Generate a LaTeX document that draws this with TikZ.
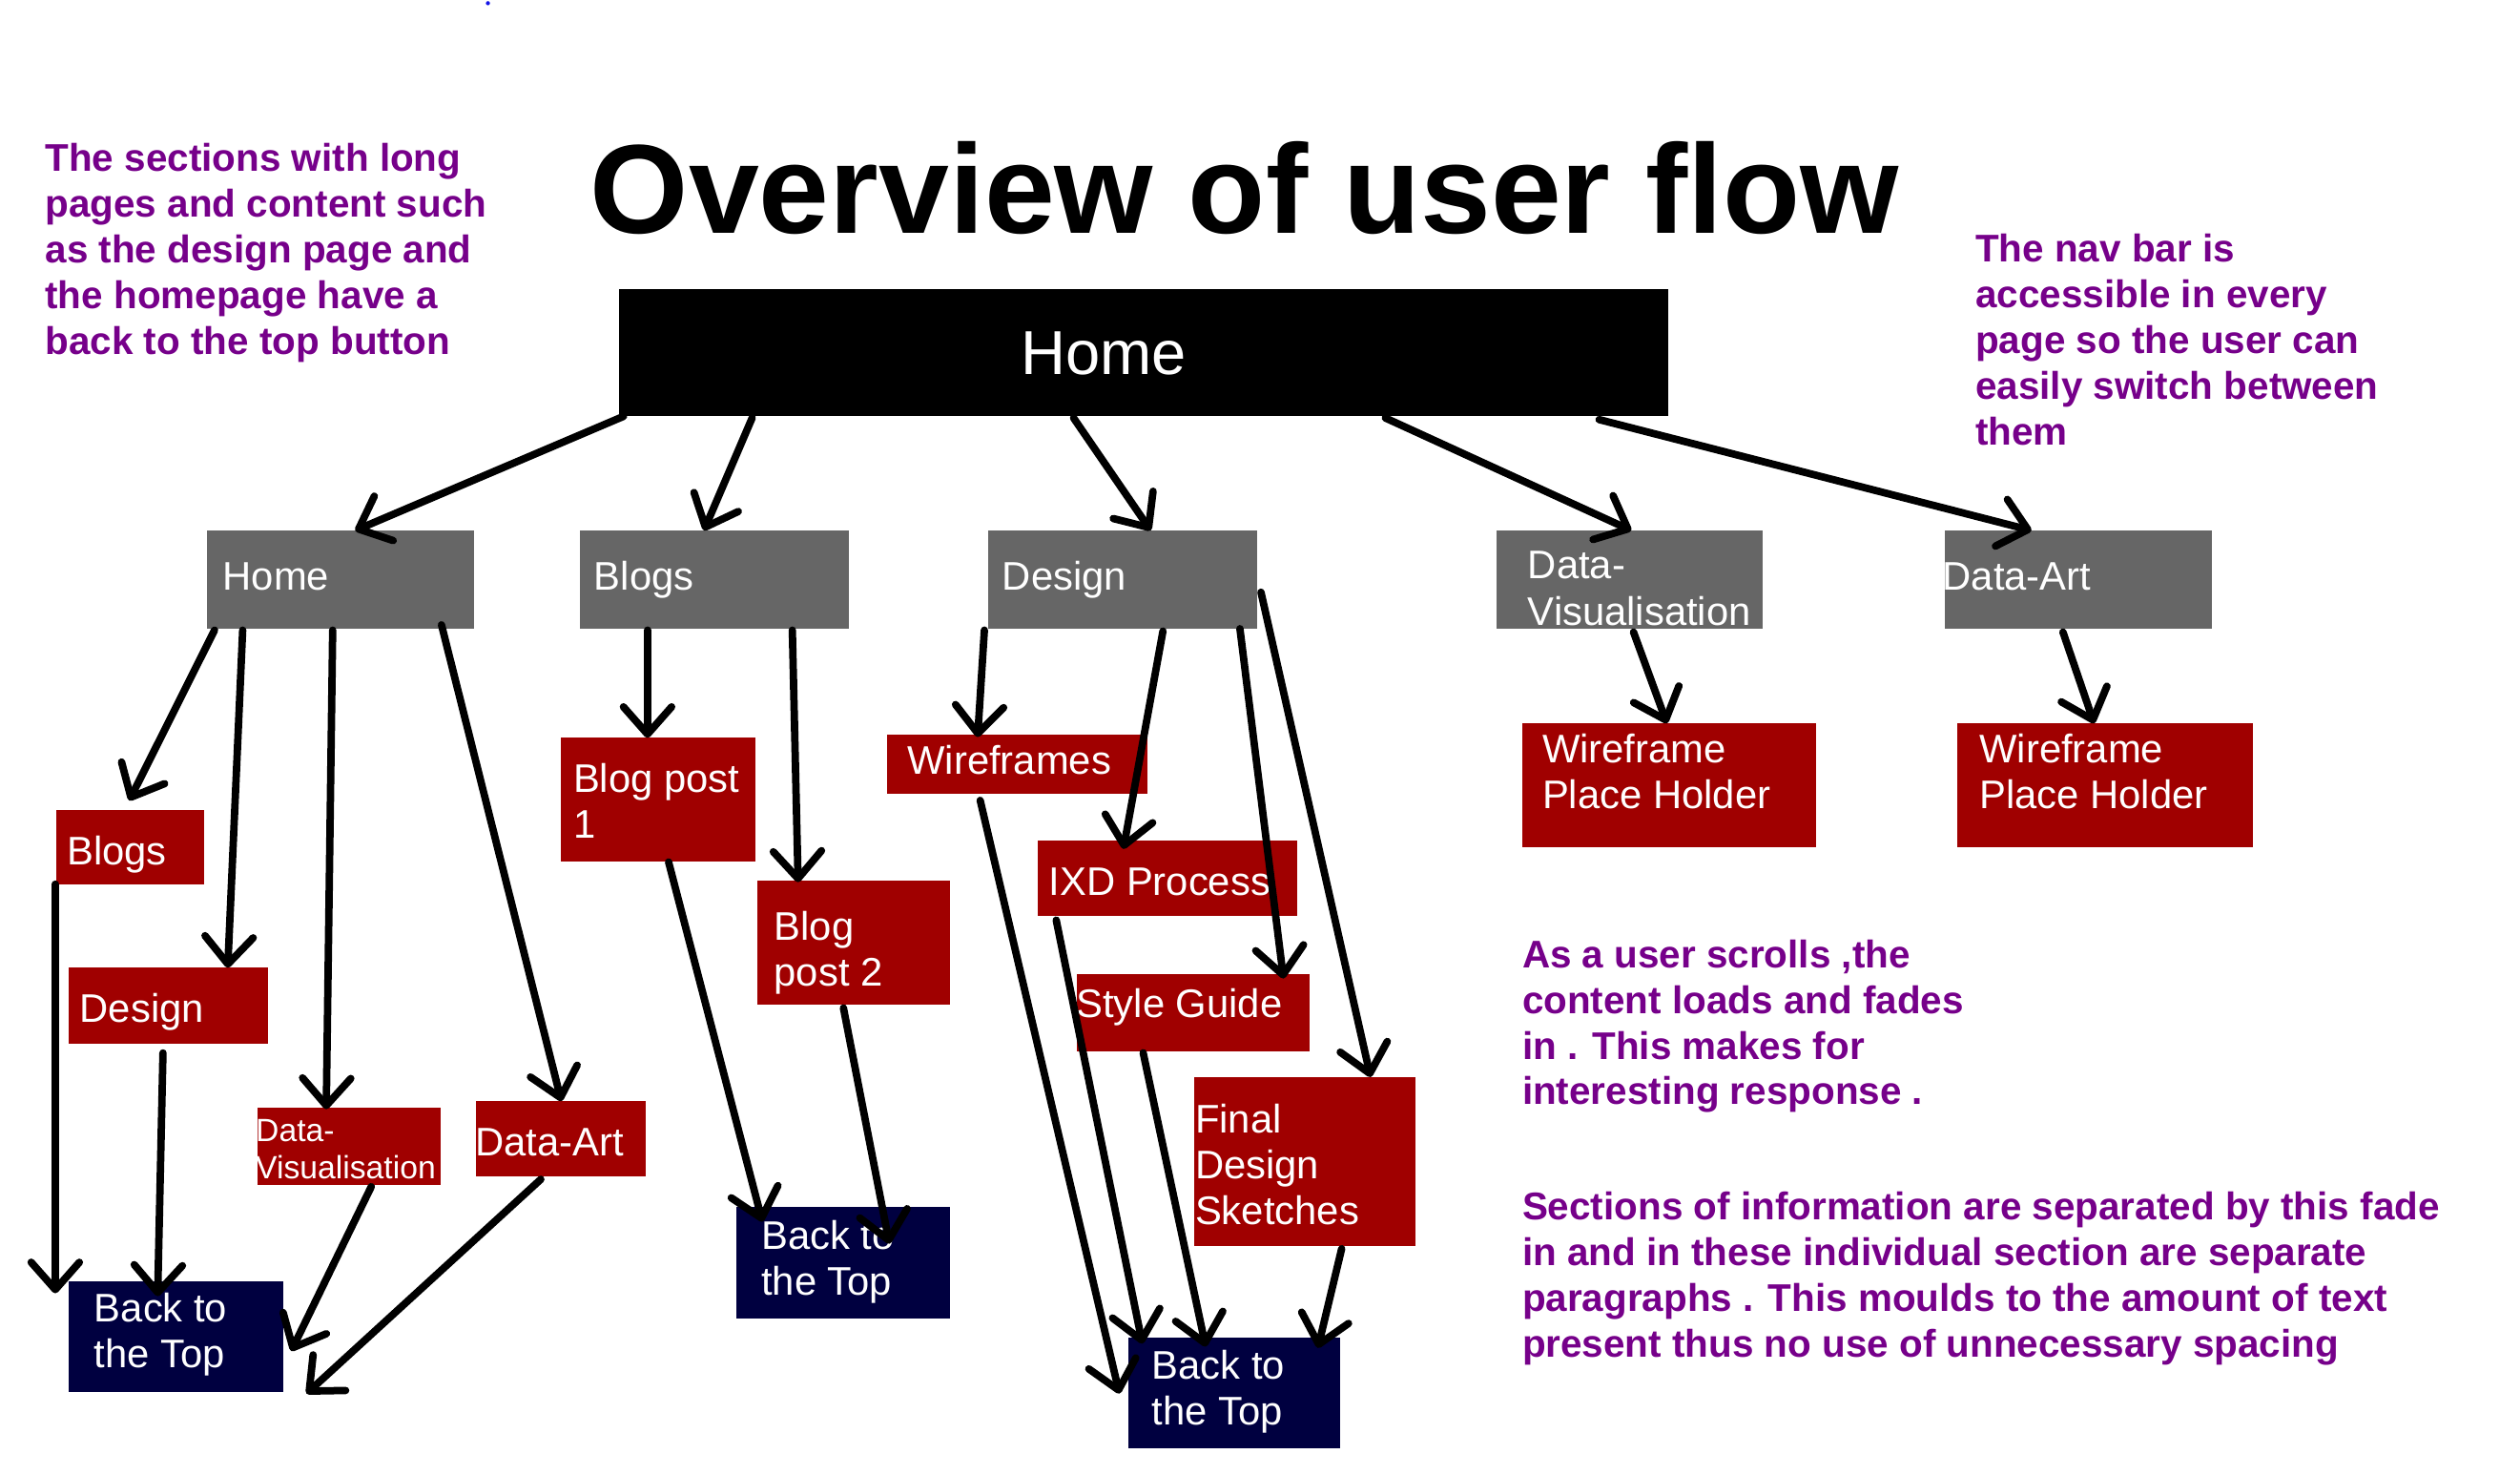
\documentclass[tikz,border=0pt]{standalone}
\usepackage{fontspec}
\setmainfont{Liberation Sans}
\usetikzlibrary{arrows.meta,calc}
\definecolor{greyb}{RGB}{102,102,102}
\definecolor{redb}{RGB}{160,0,0}
\definecolor{navyb}{RGB}{0,0,64}
\definecolor{purp}{RGB}{118,0,138}
\definecolor{dotblue}{RGB}{20,20,230}
\newcommand\mybox[6]{%
  \pgfmathsetmacro\mybw{#5-#3}%
  \pgfmathsetmacro\mybh{#6-#4}%
  \node[boxbase,#2,minimum width=\mybw pt,minimum height=\mybh pt] (#1) at (#3,#4) {};}
\newcommand\tstrut{\rule{0pt}{20pt}}
\begin{document}
\begin{tikzpicture}[x=1pt,y=-1pt,
  boxbase/.style={anchor=north west,inner sep=0pt,outer sep=0pt,draw=none},
  greybox/.style={fill=greyb},
  redbox/.style={fill=redb},
  navybox/.style={fill=navyb},
  blackbox/.style={fill=black},
  lab/.style={text=white,inner sep=0pt,font=\fontsize{24.8}{28.5}\selectfont},
  labm/.style={lab,anchor=north west,align=left},
  labs/.style={lab,anchor=base west},
  note/.style={text=purp,inner sep=0pt,anchor=north west,align=left,font=\bfseries\fontsize{24}{28.45}\selectfont},
  arr/.style={line width=4.6pt,line cap=round,line join=round,-{Straight Barb[length=17pt,width=30pt,round]}},
]
\useasboundingbox (0,0) rectangle (1568,917);
\fill[dotblue] (303.6,2) circle (1.3);

% title
\node[anchor=base west,inner sep=0pt,font=\bfseries\fontsize{78.8}{90}\selectfont] (title) at (367,145.4) {Overview of user flow};

% notes
\node[note] (noteA) at (28,86.5) {\tstrut The sections with long\\pages and content such\\as the design page and\\the homepage have a\\back to the top button};
\node[note] (noteB) at (1229,142.9) {\tstrut The nav bar is\\accessible in every\\page so the user can\\easily switch between\\them};
\node[note] (noteC) at (947,581.7) {\tstrut As a user scrolls ,the\\content loads and fades\\in . This makes for\\interesting response .};
\node[note] (noteD) at (947,738.8) {\tstrut Sections of information are separated by this fade\\in and in these individual section are separate\\paragraphs . This moulds to the amount of text\\present thus no use of unnecessary spacing};

% boxes
\mybox{hb}{blackbox}{385}{180}{1038}{259}
\mybox{g1}{greybox}{129}{330}{295}{391}
\mybox{g2}{greybox}{361}{330}{528}{391}
\mybox{g3}{greybox}{615}{330}{782}{391}
\mybox{g4}{greybox}{931}{330}{1097}{391}
\mybox{g5}{greybox}{1210}{330}{1376}{391}
\mybox{r1}{redbox}{35}{504}{127}{550}
\mybox{r2}{redbox}{43}{602}{167}{649}
\mybox{r3}{redbox}{160}{689}{274}{737}
\mybox{r4}{redbox}{296}{685}{402}{732}
\mybox{r5}{redbox}{349}{459}{470}{536}
\mybox{r6}{redbox}{471}{548}{591}{625}
\mybox{r7}{redbox}{552}{457}{714}{494}
\mybox{r8}{redbox}{646}{523}{807}{570}
\mybox{r9}{redbox}{670}{606}{815}{654}
\mybox{r10}{redbox}{743}{670}{881}{775}
\mybox{r11}{redbox}{947}{450}{1130}{527}
\mybox{r12}{redbox}{1218}{450}{1402}{527}
\mybox{n1}{navybox}{43}{797}{176}{866}
\mybox{n2}{navybox}{458}{751}{591}{820}
\mybox{n3}{navybox}{702}{832}{834}{901}

% labels
\node[lab,anchor=base west,font=\fontsize{38.6}{44}\selectfont] (thb) at (635,232.9) {Home};
\node[labs] (tg1) at (138.5,366.8) {Home};
\node[labs] (tg2) at (369.5,366.8) {Blogs};
\node[labs] (tg3) at (623.5,366.8) {Design};
\node[labm,font=\fontsize{24.8}{29}\selectfont] (tg4) at (950.5,339.8) {\tstrut Data-\\Visualisation};
\node[labs] (tg5) at (1208.5,366.8) {Data-Art};
\node[labs] (tr1) at (41.5,537.8) {Blogs};
\node[labs] (tr2) at (49.5,635.8) {Design};
\node[labm,font=\fontsize{20}{23}\selectfont] (tr3) at (159,690.2) {\tstrut Data-\\Visualisation};
\node[labs] (tr4) at (295.5,718.8) {Data-Art};
\node[labm] (tr5) at (356.5,472.8) {\tstrut Blog post\\1};
\node[labm] (tr6) at (481.5,564.8) {\tstrut Blog\\post 2};
\node[labs] (tr7) at (564.5,481.8) {Wireframes};
\node[labs] (tr8) at (652.5,556.8) {IXD Process};
\node[labs] (tr9) at (669.5,632.8) {Style Guide};
\node[labm] (tr10) at (743.5,684.8) {\tstrut Final\\Design\\Sketches};
\node[labm] (tr11) at (959.5,454) {\tstrut Wireframe\\Place Holder};
\node[labm] (tr12) at (1231.5,454) {\tstrut Wireframe\\Place Holder};
\node[labm] (tn1) at (58.5,801.8) {\tstrut Back to\\the Top};
\node[labm] (tn2) at (473.5,756.8) {\tstrut Back to\\the Top};
\node[labm] (tn3) at (716.5,837.8) {\tstrut Back to\\the Top};

% arrows
\draw[arr] ($(hb.north west)+(3,79)$) -- ($(g1.north west)+(92,0)$);
\draw[arr] ($(hb.north west)+(83,80)$) -- ($(g2.north west)+(77,0)$);
\draw[arr] ($(hb.north west)+(283,80)$) -- ($(g3.north west)+(101,0)$);
\draw[arr] ($(hb.north west)+(477,80)$) -- ($(g4.north west)+(84,0)$);
\draw[arr] ($(hb.north west)+(610,81)$) -- ($(g5.north west)+(54,0)$);

\draw[arr] ($(g1.north west)+(4.5,62)$) -- ($(r1.north west)+(45.4,-6)$);
\draw[arr] ($(g1.north west)+(22,62)$) -- ($(r2.north west)+(98.7,0)$);
\draw[arr] ($(g1.north west)+(78,62)$) -- ($(r3.north west)+(43,1)$);
\draw[arr] ($(g1.north west)+(145.7,58.7)$) -- ($(r4.north west)+(53.3,0)$);

\draw[arr] ($(r1.north west)+(-0.6,46)$) -- ($(n1.north west)+(-8.6,7.5)$);
\draw[arr] ($(r2.north west)+(58.4,53)$) -- ($(n1.north west)+(55.1,9.3)$);
\draw[arr] ($(r3.north west)+(71,49.2)$) -- ($(n1.north west)+(138.2,43.4)$);
\draw[arr] ($(r4.north west)+(40.5,48.6)$) -- ($(n1.north west)+(147.7,69.9)$);

\draw[arr] ($(g2.north west)+(41.9,62)$) -- ($(r5.north west)+(53.9,0)$);
\draw[arr] ($(g2.north west)+(132,62)$) -- ($(r6.north west)+(25.6,0.8)$);
\draw[arr] ($(r5.north west)+(67,77.2)$) -- ($(n2.north west)+(16.4,9)$);
\draw[arr] ($(r6.north west)+(53.8,79)$) -- ($(n2.north west)+(95.4,22.7)$);

\draw[arr] ($(g3.north west)+(-2.5,62)$) -- ($(r7.north west)+(56.3,1.5)$);
\draw[arr] ($(g3.north west)+(108.6,62.6)$) -- ($(r8.north west)+(53,5.1)$);
\draw[arr] ($(g3.north west)+(156.5,61.1)$) -- ($(r9.north west)+(128.6,2.7)$);
\draw[arr] ($(g3.north west)+(169.6,38.4)$) -- ($(r10.north west)+(109.8,0)$);

\draw[arr] ($(r7.north west)+(57.9,40.9)$) -- ($(n3.north west)+(-5.5,34.9)$);
\draw[arr] ($(r8.north west)+(11.2,49.4)$) -- ($(n3.north west)+(8.8,3.8)$);
\draw[arr] ($(r9.north west)+(41.3,48.9)$) -- ($(n3.north west)+(48.2,5.7)$);
\draw[arr] ($(r10.north west)+(91.8,106.8)$) -- ($(n3.north west)+(118,6.5)$);

\draw[arr] ($(g4.north west)+(85.4,63.2)$) -- ($(r11.north west)+(90.2,0)$);
\draw[arr] ($(g5.north west)+(73.6,63.2)$) -- ($(r12.north west)+(85,0)$);
\end{tikzpicture}
\end{document}
